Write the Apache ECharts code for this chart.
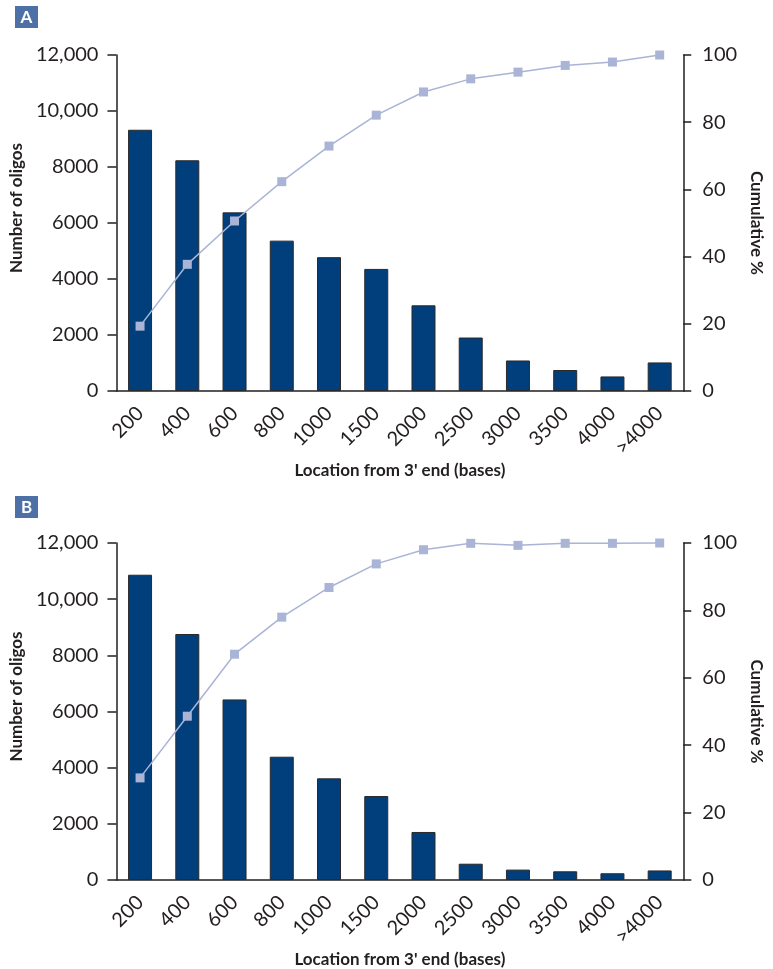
<!DOCTYPE html>
<html>
<head>
<meta charset="utf-8">
<script src="https://cdn.jsdelivr.net/npm/echarts@6/dist/echarts.min.js"></script>
<style>
  html, body { margin: 0; padding: 0; background: #fff; }
  #chart { width: 773px; height: 969px; }
</style>
</head>
<body>
<div id="chart"></div>
<script>
// Distance of oligo location from the 3' end (bins, in bases)
const categories = ['200', '400', '600', '800', '1000', '1500', '2000', '2500', '3000', '3500', '4000', '>4000'];

// Panel A: oligo counts per bin and cumulative percentage
const countsA = [9330, 8240, 6380, 5370, 4780, 4360, 3060, 1910, 1090, 750, 520, 1020];
const cumulativeA = [19.3, 37.7, 50.6, 62.3, 72.9, 82.1, 89.0, 92.9, 94.9, 96.9, 97.9, 100];

// Panel B: oligo counts per bin and cumulative percentage
const countsB = [10870, 8760, 6430, 4390, 3620, 2990, 1710, 580, 370, 310, 240, 340];
const cumulativeB = [30.3, 48.6, 67.0, 78.0, 86.8, 93.8, 98.0, 99.9, 99.3, 99.9, 99.9, 100];

// Tick labels
const countTicks = ['0', '2000', '4000', '6000', '8000', '10,000', '12,000'];
const percentTicks = ['0', '20', '40', '60', '80', '100'];

const panelLetters = ['A', 'B'];

const FONT = 'Lato, "Open Sans", sans-serif';
const INK = '#231f20';
const BAR = '#003f7b';
const LINE = '#a9b4d6';
const BADGE = '#4d71a6';

const chart = echarts.init(document.getElementById('chart'), null, { renderer: 'canvas' });

const grids = [
  { left: 111, right: 78, top: 55, height: 336 },
  { left: 111, right: 78, top: 543, height: 338 }
];

function xAxisFor(gridIndex) {
  return {
    type: 'category',
    gridIndex: gridIndex,
    data: categories,
    axisLine: { show: true, lineStyle: { color: INK, width: 1.5 } },
    axisTick: { show: false },
    axisLabel: {
      rotate: 45, margin: 19, fontSize: 20, color: INK,
      fontFamily: FONT, interval: 0
    },
    name: "Location from 3' end (bases)",
    nameLocation: 'middle',
    nameGap: 71,
    nameTextStyle: { fontSize: 17, fontWeight: 'bold', color: INK, fontFamily: FONT }
  };
}

function countAxisFor(gridIndex) {
  return {
    type: 'value',
    gridIndex: gridIndex,
    position: 'left',
    min: 0, max: 12000, interval: 2000,
    splitLine: { show: false },
    axisLine: { show: true, lineStyle: { color: INK, width: 1.5 } },
    axisTick: { show: true, length: 9, lineStyle: { color: INK, width: 1.5 } },
    axisLabel: {
      margin: 18, fontSize: 20, color: INK, fontFamily: FONT,
      formatter: (v) => countTicks[Math.round(v / 2000)]
    },
    name: 'Number of oligos',
    nameLocation: 'middle',
    nameGap: 84,
    nameTextStyle: {
      fontSize: 17, fontWeight: 'bold', color: INK, fontFamily: FONT,
      padding: [0, 0, 0, 30]
    }
  };
}

function percentAxisFor(gridIndex) {
  return {
    type: 'value',
    gridIndex: gridIndex,
    position: 'right',
    min: 0, max: 100, interval: 20,
    splitLine: { show: false },
    axisLine: { show: true, lineStyle: { color: INK, width: 1.5 } },
    axisTick: { show: true, length: 8, lineStyle: { color: INK, width: 1.5 } },
    axisLabel: {
      margin: 19, fontSize: 20, color: INK, fontFamily: FONT,
      formatter: (v) => percentTicks[Math.round(v / 20)]
    },
    name: 'Cumulative %',
    nameLocation: 'middle',
    nameRotate: -90,
    nameGap: 62,
    nameTextStyle: { fontSize: 17, fontWeight: 'bold', color: INK, fontFamily: FONT }
  };
}

function barSeries(data, axisIdx) {
  return {
    type: 'bar',
    xAxisIndex: axisIdx,
    yAxisIndex: axisIdx * 2,
    data: data,
    barWidth: 24,
    itemStyle: { color: BAR, borderColor: '#2a2a2a', borderWidth: 1 },
    z: 2
  };
}

function lineSeries(data, axisIdx) {
  return {
    type: 'line',
    xAxisIndex: axisIdx,
    yAxisIndex: axisIdx * 2 + 1,
    data: data,
    symbol: 'rect',
    symbolSize: 9,
    lineStyle: { color: LINE, width: 1.5 },
    itemStyle: { color: LINE },
    clip: false,
    z: 3
  };
}

// Small lettered badges marking the two panels
const badges = [];
[6, 496].forEach((top, i) => {
  badges.push({
    type: 'group',
    left: 15, top: top,
    children: [
      { type: 'rect', shape: { x: 0, y: 0, width: 23, height: 22 }, style: { fill: BADGE } },
      {
        type: 'text', x: 11.5, y: 11.5,
        style: {
          text: panelLetters[i], fill: '#fff', font: 'bold 17px ' + FONT,
          align: 'center', verticalAlign: 'middle'
        }
      }
    ]
  });
});

chart.setOption({
  animation: false,
  backgroundColor: '#fff',
  textStyle: { fontFamily: FONT },
  grid: grids,
  xAxis: [xAxisFor(0), xAxisFor(1)],
  yAxis: [countAxisFor(0), percentAxisFor(0), countAxisFor(1), percentAxisFor(1)],
  series: [
    barSeries(countsA, 0), lineSeries(cumulativeA, 0),
    barSeries(countsB, 1), lineSeries(cumulativeB, 1)
  ],
  graphic: badges
});
</script>
</body>
</html>
